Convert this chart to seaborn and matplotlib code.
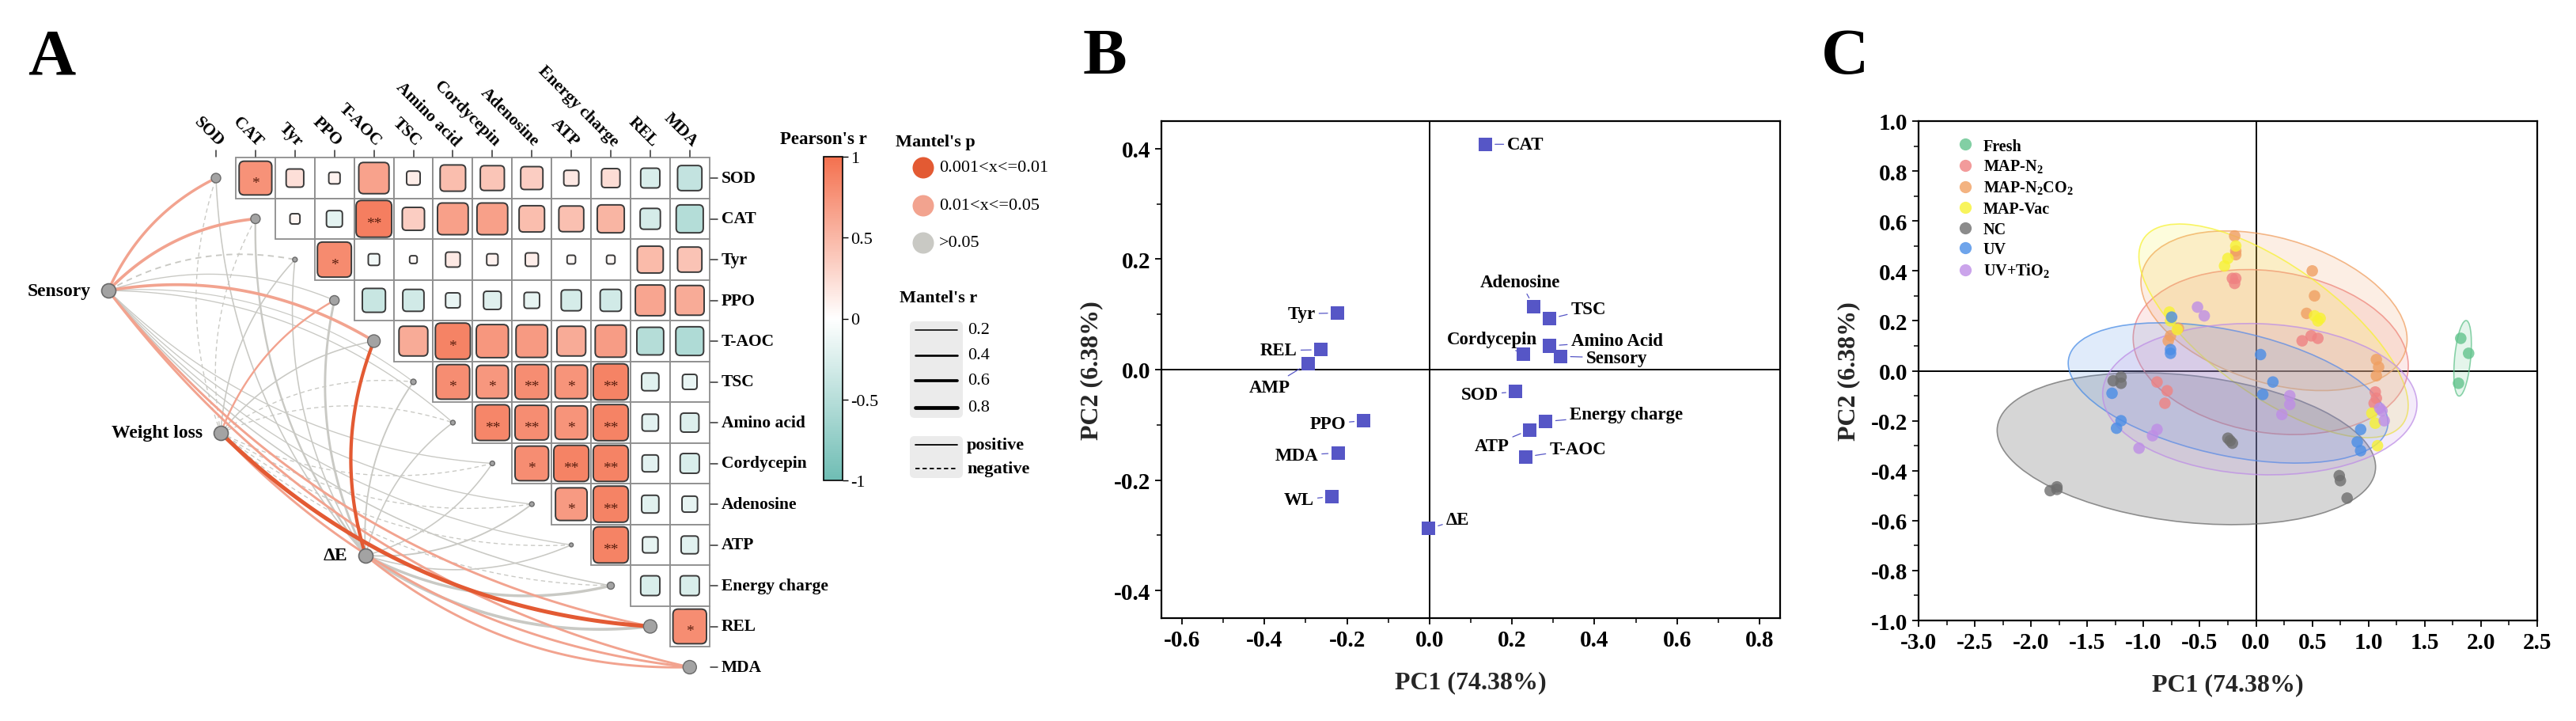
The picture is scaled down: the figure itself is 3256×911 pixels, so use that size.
import numpy as np
import pandas as pd
import matplotlib
matplotlib.use("Agg")
import matplotlib.pyplot as plt
import seaborn as sns
from matplotlib.colors import LinearSegmentedColormap, Normalize, to_rgba
from matplotlib.patches import Rectangle, FancyBboxPatch, Ellipse
from matplotlib.ticker import MultipleLocator, FormatStrFormatter
from matplotlib.cm import ScalarMappable

# ---------------- panel A: correlation heatmap + Mantel links ----------------
heat_vars = ["SOD", "CAT", "Tyr", "PPO", "T-AOC", "TSC", "Amino acid", "Cordycepin",
             "Adenosine", "ATP", "Energy charge", "REL", "MDA"]
# upper triangle, row i holds r with columns i+1 .. end
heat_r = [
    [0.76, 0.22, 0.09, 0.65, 0.13, 0.46, 0.41, 0.35, 0.16, 0.24, -0.26, -0.42],
    [0.07, -0.18, 0.90, 0.35, 0.67, 0.67, 0.46, 0.44, 0.52, -0.29, -0.52],
    [0.82, -0.09, 0.04, 0.15, 0.09, 0.12, 0.05, 0.05, 0.48, 0.42],
    [-0.38, -0.32, -0.15, -0.22, -0.17, -0.29, -0.32, 0.63, 0.59],
    [0.59, 0.87, 0.73, 0.71, 0.59, 0.69, -0.51, -0.55],
    [0.80, 0.73, 0.80, 0.75, 0.87, -0.21, -0.15],
    [0.85, 0.80, 0.75, 0.87, -0.19, -0.24],
    [0.80, 0.87, 0.87, -0.19, -0.26],
    [0.71, 0.87, -0.21, -0.17],
    [0.87, -0.17, -0.21],
    [-0.26, -0.26],
    [0.80],
    [],
]
heat_sig = [
    ["*", "", "", "", "", "", "", "", "", "", "", ""],
    ["", "", "**", "", "", "", "", "", "", "", ""],
    ["*", "", "", "", "", "", "", "", "", ""],
    ["", "", "", "", "", "", "", "", ""],
    ["", "*", "", "", "", "", "", ""],
    ["*", "*", "**", "*", "**", "", ""],
    ["**", "**", "*", "**", "", ""],
    ["*", "**", "**", "", ""],
    ["*", "**", "", ""],
    ["**", "", ""],
    ["", ""],
    ["*"],
    [],
]
diag_node_px = [12, 12, 6, 12, 16, 7, 6, 6, 6, 5, 9, 17, 17]

env_names = ["Sensory", "Weight loss", "ΔE"]
mantel_r = [
    [0.55, 0.60, -0.25, 0.15, 0.60, 0.12, 0.15, 0.15, 0.15, 0.15, 0.20, 0.45, 0.45],
    [-0.15, -0.15, 0.20, 0.35, 0.20, -0.15, -0.15, -0.15, -0.15, -0.15, -0.15, 0.85, 0.45],
    [0.20, 0.35, 0.20, 0.45, 0.70, 0.25, 0.20, 0.20, 0.25, 0.20, 0.55, 0.60, 0.45],
]
mantel_p = [
    [0.03, 0.03, 0.30, 0.40, 0.03, 0.50, 0.40, 0.40, 0.40, 0.40, 0.20, 0.03, 0.03],
    [0.40, 0.40, 0.30, 0.03, 0.30, 0.50, 0.50, 0.50, 0.50, 0.50, 0.50, 0.005, 0.03],
    [0.30, 0.20, 0.30, 0.10, 0.005, 0.20, 0.30, 0.30, 0.20, 0.30, 0.08, 0.07, 0.03],
]

# ---------------- panel B: PCA loadings ----------------
pca_names = ["CAT", "Adenosine", "TSC", "Amino Acid", "Cordycepin", "Sensory", "SOD",
             "Energy charge", "ATP", "T-AOC", "ΔE", "Tyr", "REL", "AMP", "PPO", "MDA", "WL"]
pc1_load = [0.135, 0.253, 0.291, 0.291, 0.227, 0.318, 0.209, 0.282, 0.243, 0.233,
            -0.002, -0.223, -0.263, -0.294, -0.159, -0.222, -0.236]
pc2_load = [0.408, 0.114, 0.092, 0.043, 0.028, 0.024, -0.040, -0.094, -0.109, -0.158,
            -0.288, 0.1025, 0.036, 0.011, -0.0925, -0.151, -0.230]

# ---------------- panel C: PCA scores ----------------
groups = ["Fresh", "MAP-N$_\\mathregular{2}$", "MAP-N$_\\mathregular{2}$CO$_\\mathregular{2}$",
          "MAP-Vac", "NC", "UV", "UV+TiO$_\\mathregular{2}$"]
group_colors = ["#63C48D", "#EF8282", "#F0A062", "#F7F233", "#6E6E6E", "#4A8DE6", "#BE8EE6"]
score_x = [
    [1.82, 1.89, 1.80],
    [-0.21, -0.18, -0.19, 0.41, 0.49, 0.55, -0.88, -0.79, -0.81, 1.06, 1.07, 1.05],
    [-0.19, -0.18, -0.18, 0.50, 0.52, 0.45, -0.78, -0.76, -0.69, 1.07, 1.09, 1.07],
    [-0.28, -0.25, -0.18, 0.52, 0.55, 0.57, -0.77, -0.76, -0.70, 1.03, 1.06, 1.08],
    [-1.27, -1.20, -1.20, -0.25, -0.21, -0.23, -1.83, -1.77, -1.77, 0.74, 0.75, 0.81],
    [-0.75, -0.76, -0.76, 0.04, 0.15, 0.06, -1.28, -1.20, -1.24, 0.93, 0.90, 0.93],
    [-0.52, -0.46, 0.30, 0.30, 0.23, -0.88, -0.92, -1.04, 1.10, 1.12, 1.14],
]
score_y = [
    [0.13, 0.07, -0.05],
    [0.37, 0.37, 0.35, 0.12, 0.14, 0.13, -0.045, -0.08, -0.13, -0.085, -0.11, -0.13],
    [0.54, 0.48, 0.465, 0.40, 0.30, 0.23, 0.12, 0.14, 0.17, 0.045, 0.015, -0.02],
    [0.42, 0.45, 0.50, 0.22, 0.20, 0.21, 0.235, 0.20, 0.165, -0.17, -0.21, -0.30],
    [-0.04, -0.025, -0.05, -0.27, -0.29, -0.28, -0.48, -0.465, -0.475, -0.42, -0.44, -0.51],
    [0.215, 0.085, 0.07, 0.065, -0.045, -0.095, -0.09, -0.20, -0.23, -0.235, -0.285, -0.32],
    [0.255, 0.22, -0.10, -0.135, -0.175, -0.235, -0.26, -0.31, -0.15, -0.16, -0.20],
]

# ---------------- style ----------------
sns.set_theme(style="ticks")
plt.rcParams["font.family"] = ["Liberation Serif", "DejaVu Serif"]
plt.rcParams["axes.unicode_minus"] = False
plt.rcParams["axes.edgecolor"] = "black"
plt.rcParams["xtick.color"] = "black"
plt.rcParams["ytick.color"] = "black"
plt.rcParams["text.color"] = "black"

W, H = 3256, 912
fig = plt.figure(figsize=(W / 100, H / 100), dpi=100)


def px_axes(x0, y0, x1, y1):
    return fig.add_axes([x0 / W, 1 - y1 / H, (x1 - x0) / W, (y1 - y0) / H])


P_DARK, P_MID, P_NS = "#E35A33", "#F2A38F", "#C9C9C4"
heat_cmap = LinearSegmentedColormap.from_list("pr", ["#6FBDB4", "#FFFFFF", "#F4714F"])
heat_norm = Normalize(-1, 1)


def mantel_lw(r):
    return 0.4 + 3.8 * abs(r)


def p_color(p):
    if p <= 0.01:
        return P_DARK
    if p <= 0.05:
        return P_MID
    return P_NS


def arc(p0, p2, sign, k=0.18):
    p0, p2 = np.asarray(p0, float), np.asarray(p2, float)
    d = p2 - p0
    left = np.array([d[1], -d[0]])
    c = (p0 + p2) / 2 + sign * k * left
    t = np.linspace(0, 1, 80)[:, None]
    return (1 - t) ** 2 * p0 + 2 * (1 - t) * t * c + t ** 2 * p2


# ---------------- panel A ----------------
axA = px_axes(0, 0, 1000, 912)
cx, cy, ox, oy = 49.9, 51.5, 273, 226
axA.set_xlim(-ox / cx, (1000 - ox) / cx)
axA.set_ylim((912 - oy) / cy, -oy / cy)
axA.axis("off")

n = len(heat_vars)
for i, row in enumerate(heat_r):
    for k, r in enumerate(row):
        j = i + 1 + k
        axA.add_patch(Rectangle((j - 0.5, i - 0.5), 1, 1, fc="white", ec="#8E8E8E",
                                lw=1.3, zorder=2))
        side = np.sqrt(abs(r)) * 0.95
        axA.add_patch(FancyBboxPatch((j - side / 2, i - side / 2), side, side,
                                     boxstyle=f"round,pad=0,rounding_size={0.12 * side + 0.03}",
                                     fc=heat_cmap(heat_norm(r)), ec="#3A3A3A", lw=1.4, zorder=3))
        if heat_sig[i][k]:
            axA.text(j, i + 0.12, heat_sig[i][k], ha="center", va="center", fontsize=14,
                     color="#5A1E0E", zorder=4)

for i, name in enumerate(heat_vars):
    axA.plot([i, i], [-0.53, -0.68], color="#333333", lw=1.1, zorder=2)
    axA.text(i + 0.12, -0.85, name, rotation=-45, rotation_mode="anchor", ha="right",
             va="center", fontsize=15.5, fontweight="bold")
    axA.plot([12.52, 12.7], [i, i], color="#333333", lw=1.1, zorder=2)
    axA.text(12.8, i, name, ha="left", va="center", fontsize=15.5, fontweight="bold")

env_pos = [(-2.73, 2.76), (0.12, 6.25), (3.79, 9.26)]
links = []
for e in range(len(env_pos)):
    for i in range(n):
        links.append((e, i, mantel_r[e][i], mantel_p[e][i]))
rank = {P_NS: 0, P_MID: 1, P_DARK: 2}
links.sort(key=lambda l: rank[p_color(l[3])])
for e, i, r, p in links:
    # upper half of the diagonal bends one way, lower half the other
    sign = -1 if i >= 7 else 1
    pts = arc(env_pos[e], (i, i), sign)
    axA.plot(pts[:, 0], pts[:, 1], color=p_color(p), lw=mantel_lw(r),
             linestyle="-" if r >= 0 else (0, (4, 3)), solid_capstyle="round",
             zorder=1 + rank[p_color(p)] * 0.1)

axA.scatter(range(n), range(n), s=[(d * 0.72) ** 2 for d in diag_node_px], c="#A3A3A3",
            edgecolors="#6A6A6A", linewidths=1.0, zorder=5)
axA.scatter([p[0] for p in env_pos], [p[1] for p in env_pos], s=(18 * 0.72) ** 2,
            c="#A3A3A3", edgecolors="#6A6A6A", linewidths=1.2, zorder=5)
for name, (ex, ey) in zip(env_names, env_pos):
    axA.text(ex - 0.45, ey, name, ha="right", va="center", fontsize=17, fontweight="bold")

# colorbar
cax = px_axes(1041, 199, 1065, 608)
cb = fig.colorbar(ScalarMappable(heat_norm, heat_cmap), cax=cax, ticks=[-1, -0.5, 0, 0.5, 1])
cb.ax.set_yticklabels(["-1", "-0.5", "0", "0.5", "1"])
cb.outline.set_linewidth(1.2)
cb.ax.tick_params(length=5, width=1, labelsize=16, pad=2)
fig.text(1041 / W, 1 - 177 / H, "Pearson's r", ha="center", va="center", fontsize=16.5,
         fontweight="bold")

# Mantel legends
axL = px_axes(1100, 150, 1400, 650)
axL.set_xlim(1100, 1400)
axL.set_ylim(650, 150)
axL.axis("off")
axL.text(1132, 180, "Mantel's p", ha="left", va="center", fontsize=16, fontweight="bold")
p_labels = ["0.001<x<=0.01", "0.01<x<=0.05", ">0.05"]
for yy, col, lab in zip([213, 261, 308], [P_DARK, P_MID, P_NS], p_labels):
    axL.scatter([1167], [yy], s=(27 * 0.72) ** 2, c=col, edgecolors="none")
    axL.text(1187, yy, lab, ha="left", va="center", fontsize=16)
axL.text(1137, 377, "Mantel's r", ha="left", va="center", fontsize=16, fontweight="bold")
axL.add_patch(FancyBboxPatch((1150, 407), 67, 122, boxstyle="round,pad=0,rounding_size=6",
                             fc="#EBEBEB", ec="none"))
axL.add_patch(FancyBboxPatch((1150, 552), 67, 53, boxstyle="round,pad=0,rounding_size=6",
                             fc="#EBEBEB", ec="none"))
for yy, rv in zip([418, 450, 482, 516], [0.2, 0.4, 0.6, 0.8]):
    axL.plot([1157, 1210], [yy, yy], color="black", lw=mantel_lw(rv), solid_capstyle="round")
    axL.text(1223, yy, f"{rv:.1f}", ha="left", va="center", fontsize=16)
axL.plot([1157, 1210], [563, 563], color="black", lw=1.3)
axL.plot([1157, 1210], [593, 593], color="black", lw=1.3, linestyle=(0, (3, 2)))
axL.text(1222, 563, "positive", ha="left", va="center", fontsize=16, fontweight="bold")
axL.text(1222, 593, "negative", ha="left", va="center", fontsize=16, fontweight="bold")


def style_axis(ax):
    for s in ax.spines.values():
        s.set_visible(True)
        s.set_linewidth(1.6)
        s.set_color("black")
    ax.tick_params(which="major", direction="out", length=6, width=1.3, labelsize=21,
                   pad=4)
    ax.tick_params(which="minor", direction="out", length=4, width=1.1)
    for lab in ax.get_xticklabels() + ax.get_yticklabels():
        lab.set_fontweight("bold")
    ax.axhline(0, color="black", lw=1.4, zorder=0)
    ax.axvline(0, color="black", lw=1.4, zorder=0)
    ax.set_xlabel("PC1 (74.38%)", fontsize=23, fontweight="bold", labelpad=18)
    ax.set_ylabel("PC2 (6.38%)", fontsize=23, fontweight="bold", labelpad=10)


# ---------------- panel B ----------------
axB = px_axes(1468, 154, 2250, 782)
sns.scatterplot(x=pc1_load, y=pc2_load, ax=axB, marker="s", s=150, color="#5656C6",
                edgecolor="none", linewidth=0, zorder=3)
axB.set_xlim(-0.65, 0.85)
axB.set_ylim(-0.45, 0.45)
axB.xaxis.set_major_locator(MultipleLocator(0.2))
axB.xaxis.set_minor_locator(MultipleLocator(0.1))
axB.yaxis.set_major_locator(MultipleLocator(0.2))
axB.yaxis.set_minor_locator(MultipleLocator(0.1))
axB.xaxis.set_major_formatter(FormatStrFormatter("%.1f"))
axB.yaxis.set_major_formatter(FormatStrFormatter("%.1f"))
style_axis(axB)

label_off = {
    "CAT": (28, 0, "left"), "Adenosine": (-17, -31, "center"), "TSC": (27, -12, "left"),
    "Amino Acid": (27, -6, "left"), "Cordycepin": (-39, -19, "center"),
    "Sensory": (32, 2, "left"), "SOD": (-22, 4, "right"), "Energy charge": (30, -9, "left"),
    "ATP": (-48, 20, "center"), "T-AOC": (30, -10, "left"), "ΔE": (22, -11, "left"),
    "Tyr": (-28, 1, "right"), "REL": (-30, 1, "right"), "AMP": (-49, 30, "center"),
    "PPO": (-23, 4, "right"), "MDA": (-25, 3, "right"), "WL": (-23, 4, "right"),
}
for name, x, y in zip(pca_names, pc1_load, pc2_load):
    dx, dy, ha = label_off[name]
    axB.annotate(name, (x, y), xytext=(dx, -dy), textcoords="offset pixels", ha=ha,
                 va="center", fontsize=16.5, fontweight="bold",
                 arrowprops=dict(arrowstyle="-", color="#5656C6", lw=0.9, shrinkA=1,
                                 shrinkB=9))

# ---------------- panel C ----------------
axC = px_axes(2425, 154, 3207, 785)
rows = []
for g, xs, ys in zip(groups, score_x, score_y):
    for x, y in zip(xs, ys):
        rows.append({"PC1": x, "PC2": y, "group": g})
scores = pd.DataFrame(rows)

for g, col in zip(groups, group_colors):
    pts = scores.loc[scores["group"] == g, ["PC1", "PC2"]].to_numpy()
    mu = pts.mean(axis=0)
    vals, vecs = np.linalg.eigh(np.cov(pts.T))
    order = vals.argsort()[::-1]
    vals, vecs = vals[order], vecs[:, order]
    ang = np.degrees(np.arctan2(vecs[1, 0], vecs[0, 0]))
    kk = 1.65
    fill_a = 0.28 if g == "NC" else 0.17
    axC.add_patch(Ellipse(mu, 2 * kk * np.sqrt(vals[0]), 2 * kk * np.sqrt(vals[1]), angle=ang,
                          fc=to_rgba(col, fill_a), ec=to_rgba(col, 0.75), lw=1.2, zorder=1))

sns.scatterplot(data=scores, x="PC1", y="PC2", hue="group", hue_order=groups,
                palette=dict(zip(groups, group_colors)), s=110, alpha=0.8,
                edgecolor="none", linewidth=0, ax=axC, zorder=3)
leg = axC.get_legend()
handles = leg.legend_handles
labels = [t.get_text() for t in leg.get_texts()]
leg.remove()
for h in handles:
    h.set_markersize(11)
    h.set_alpha(0.8)
axC.legend(handles, labels, loc="upper left", bbox_to_anchor=(0.045, 0.985), frameon=False,
           prop={"weight": "bold", "size": 14.5}, labelspacing=0.28, handletextpad=0.5,
           handlelength=1.2, borderaxespad=0.2)

axC.set_xlim(-3.0, 2.5)
axC.set_ylim(-1.0, 1.0)
axC.xaxis.set_major_locator(MultipleLocator(0.5))
axC.xaxis.set_minor_locator(MultipleLocator(0.25))
axC.yaxis.set_major_locator(MultipleLocator(0.2))
axC.yaxis.set_minor_locator(MultipleLocator(0.1))
axC.xaxis.set_major_formatter(FormatStrFormatter("%.1f"))
axC.yaxis.set_major_formatter(FormatStrFormatter("%.1f"))
style_axis(axC)

# panel letters
for letter, xpx in [("A", 35), ("B", 1369), ("C", 2302)]:
    fig.text(xpx / W, 1 - 93 / H, letter, ha="left", va="baseline", fontsize=60,
             fontweight="bold")

fig.savefig("out.png", dpi=100)
